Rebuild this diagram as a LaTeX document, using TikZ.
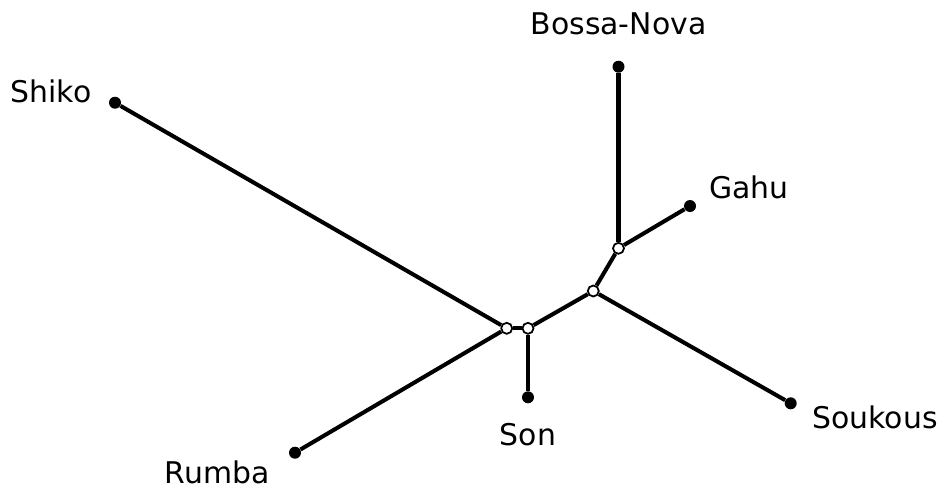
\documentclass[tikz,border=0pt]{standalone}
\usepackage{fontspec}
\setmainfont{DejaVu Sans}
\usetikzlibrary{positioning}

\begin{document}
\begin{tikzpicture}[x = 0.02cm, y = -0.02cm, leaf/.style = { circle, fill, inner sep = 0pt, minimum size = 0.24cm }, split/.style = { draw, circle, fill = white, line width = 1pt, inner sep = 0pt, minimum size = 0.22cm }, edge/.style = { line width = 2.3pt }, lbl/.style = { inner sep = 0pt, text height = 13pt, text depth = 0pt, font = \fontsize{17}{20}\selectfont }]
	\useasboundingbox (0, 0) rectangle (947, 491);

	\node [leaf] (shiko) at (115, 102.7) {};
	\node [leaf] (bossa) at (618.5, 66.7) {};
	\node [leaf] (gahu) at (690, 206) {};
	\node [leaf] (soukous) at (790.7, 403.3) {};
	\node [leaf] (son) at (528, 397.3) {};
	\node [leaf] (rumba) at (295, 452.7) {};

	\node [split] (nL) at (506.7, 328.3) {};
	\node [split] (nR) at (528, 328.3) {};
	\node [split] (nM) at (593.3, 291) {};
	\node [split] (nU) at (618.5, 248.3) {};

	\node [lbl, base left = 0.34cm of shiko] (lshiko) {Shiko};
	\node [lbl, above = 0.51cm of bossa] (lbossa) {Bossa-Nova};
	\node [lbl, above right = 0.06cm and 0.29cm of gahu] (lgahu) {Gahu};
	\node [lbl, below right = -0.05cm and 0.34cm of soukous] (lsoukous) {Soukous};
	\node [lbl, below = 0.37cm of son] (lson) {Son};
	\node [lbl, below left = 0.06cm and 0.41cm of rumba] (lrumba) {Rumba};

	\draw [edge] (shiko) -- (nL);
	\draw [edge] (rumba) -- (nL);
	\draw [edge] (nL) -- (nR);
	\draw [edge] (nR) -- (son);
	\draw [edge] (nR) -- (nM);
	\draw [edge] (nM) -- (soukous);
	\draw [edge] (nM) -- (nU);
	\draw [edge] (nU) -- (bossa);
	\draw [edge] (nU) -- (gahu);
\end{tikzpicture}
\end{document}
